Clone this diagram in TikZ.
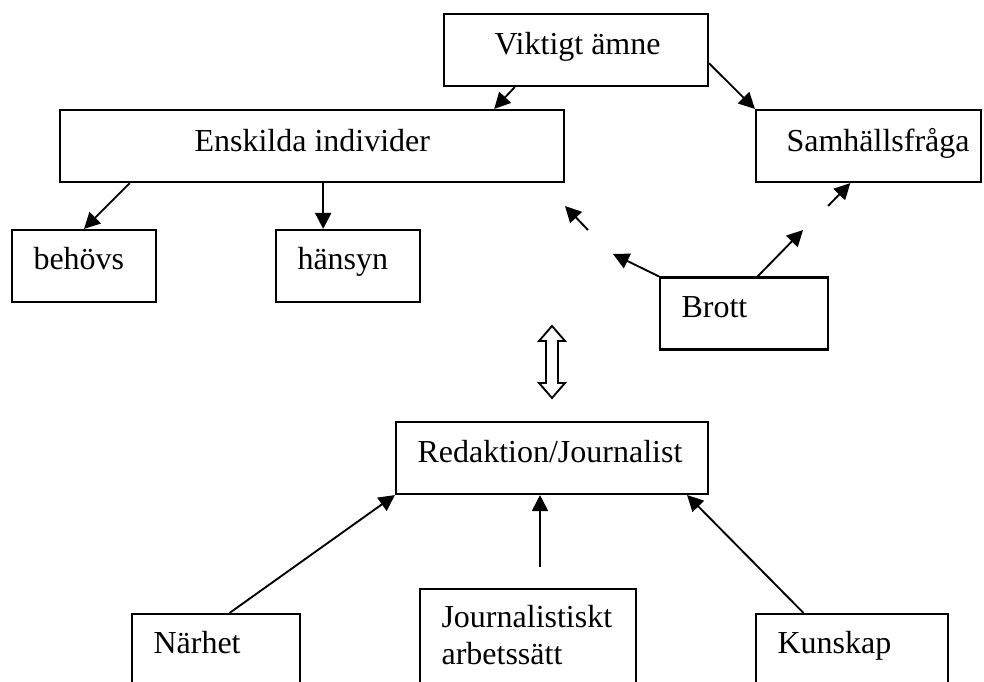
\documentclass[tikz,border=0pt]{standalone}
\usepackage{fontspec}
\setmainfont{Liberation Serif}
\usetikzlibrary{arrows.meta,calc}
\tikzset{
    box/.style={
      rectangle,
      draw=black,
      line width=0.8pt,
      minimum height=27pt,
      inner sep=0pt
    },
    word/.style={
      anchor=base west,
      inner sep=0pt,
      font=\fontsize{12pt}{13.9pt}\selectfont
    },
    arr/.style={
      -{Triangle[length=6pt,width=6pt]},
      line width=0.7pt
    },
}

\begin{document}
\begin{tikzpicture}[x=0.375pt,y=-0.375pt]
    \useasboundingbox (0,0) rectangle (984,682);
    \clip (0,0) rectangle (984,682);

    % upper part
    \node[box, minimum width=99pt] at (576,50) (viktigt) {};
    \node[box, minimum width=189pt] at (312,146) (enskilda) {};
    \node[box, minimum width=84.4pt] at (868.5,146) (samhalle) {};
    \node[box, minimum width=54pt] at (84,266) (behovs) {};
    \node[box, minimum width=54pt] at (348,266) (hansyn) {};
    \node[box, minimum width=63pt] at (744,313.5) (brott) {};

    \node[word] at (494,55) (tviktigt) {Viktigt ämne};
    \node[word] at (194,152) (tenskilda) {Enskilda individer};
    \node[word] at (786,152) (tsamhalle) {Samhällsfråga};
    \node[word] at (33,270) (tbehovs) {behövs};
    \node[word] at (297,270) (thansyn) {hänsyn};
    \node[word] at (681,318) (tbrott) {Brott};

    \draw[arr] ($(viktigt.south west)!.27!(viktigt.south east)$) -- ($(enskilda.north west)!.86!(enskilda.north east)$);
    \draw[arr] ($(viktigt.north east)!.68!(viktigt.south east)$) -- (samhalle.north west);
    \draw[arr] ($(enskilda.south west)!.14!(enskilda.south east)$) -- (behovs.north);
    \coordinate (h1) at ($(hansyn.north west)!.33!(hansyn.north east)$);
    \draw[arr] (enskilda.south -| h1) -- (h1);

    % Brott, broken arrows
    \coordinate (b1) at (613,254);
    \coordinate (b2) at (588,230);
    \coordinate (b3) at (565,206);
    \coordinate (b4) at (803,230);
    \coordinate (b5) at (828,206);
    \draw[arr] (brott.north west) -- (b1);
    \draw[arr] (b2) -- (b3);
    \draw[arr] ($(brott.north west)!.58!(brott.north east)$) -- (b4);
    \draw[arr] (b5) -- ($(samhalle.south west)!.42!(samhalle.south east)$);

    % open double arrow
    \draw[line width=0.7pt, fill=white] (552,326) -- (565,341) -- (558,341) -- (558,383) -- (565,383)
      -- (552,398) -- (539,383) -- (546,383) -- (546,341) -- (539,341) -- cycle;

    % lower part
    \node[box, minimum width=117pt] at (552,458) (redaktion) {};
    \node[box, minimum width=63pt] at (216,650) (narhet) {};
    \node[box, minimum width=81pt, minimum height=36pt] at (528,637) (arbetssatt) {};
    \node[box, minimum width=72pt] at (852,650) (kunskap) {};

    \node[word] at (417,463) (tredaktion) {Redaktion/Journalist};
    \node[word] at (153,654) (tnarhet) {Närhet};
    \node[word, align=left] at (441,665) (tarbetssatt) {Journalistiskt\\arbetssätt};
    \node[word] at (777,654) (tkunskap) {Kunskap};

    \draw[arr] ($(narhet.north west)!.58!(narhet.north east)$) -- (redaktion.south west);
    \coordinate (j1) at (540,567);
    \draw[arr] (j1) -- (j1 |- redaktion.south);
    \draw[arr] ($(kunskap.north west)!.25!(kunskap.north east)$) -- ($(redaktion.south west)!.93!(redaktion.south east)$);

\end{tikzpicture}
\end{document}
